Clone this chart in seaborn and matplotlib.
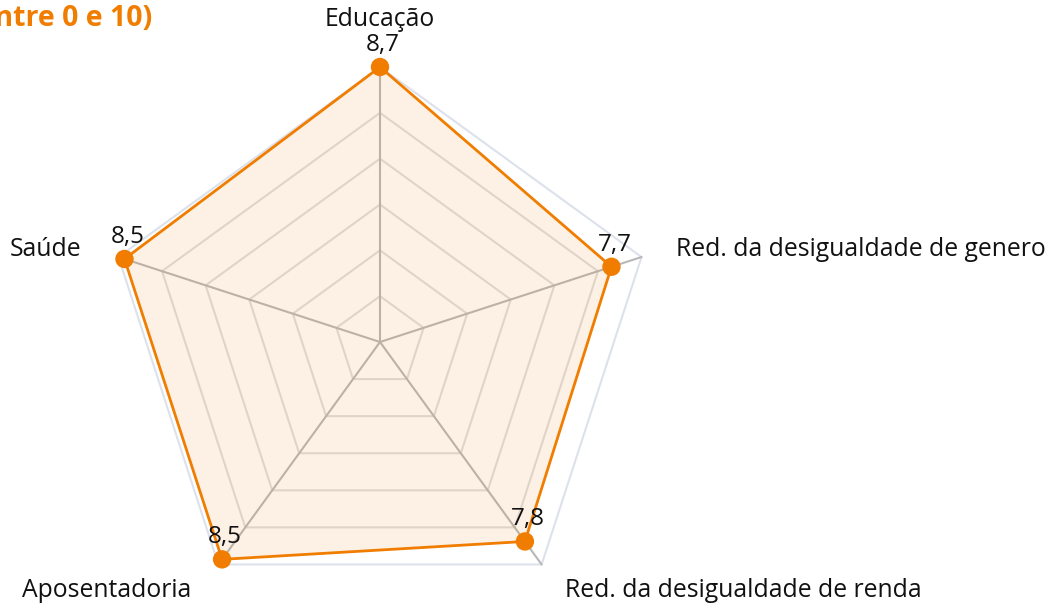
import numpy as np
import pandas as pd
import matplotlib
matplotlib.use("Agg")
import matplotlib.pyplot as plt
import seaborn as sns

# ---- data ----
categories = ["Educação", "Red. da desigualdade de genero", "Red. da desigualdade de renda",
              "Aposentadoria", "Saúde"]
values = [8.7, 7.7, 7.8, 8.5, 8.5]
value_labels = ["8,7", "7,7", "7,8", "8,5", "8,5"]
title_text = "Nota média (entre 0 e 10)"
r_max = 8.7
n_rings = 6

# ---- style ----
sns.set_theme(style="white")
plt.rcParams["font.family"] = ["Open Sans", "DejaVu Sans"]
ORANGE = "#f07d00"
W, H = 1045, 615
cx, cy = 380, 342          # centre in pixels (from top-left)
R_px = 275                 # radius of r_max in pixels
scale = R_px / r_max

fig = plt.figure(figsize=(W / 100, H / 100), dpi=100)
ax = fig.add_axes([0, 0, 1, 1])

n = len(categories)
angles = np.deg2rad(90 - np.arange(n) * 360 / n)

def to_xy(r, a):
    return np.asarray(r) * np.cos(a), np.asarray(r) * np.sin(a)

# grid rings
for k in range(1, n_rings + 1):
    rr = r_max * k / n_rings
    gx, gy = to_xy(np.full(n + 1, rr), np.append(angles, angles[0]))
    col = "#dce1ec" if k == n_rings else "#dedede"
    ax.plot(gx, gy, color=col, lw=1.5, zorder=1)
# spokes
for a in angles:
    sx, sy = to_xy([0, r_max], np.array([a, a]))
    ax.plot(sx, sy, color="#b8b8b8", lw=1.5, zorder=1)

# series
px, py = to_xy(values, angles)
df = pd.DataFrame({"x": np.append(px, px[0]), "y": np.append(py, py[0])})
ax.fill(df["x"], df["y"], color=ORANGE, alpha=0.1, lw=0, zorder=2)
sns.lineplot(data=df, x="x", y="y", sort=False, estimator=None, color=ORANGE,
             lw=2, ax=ax, zorder=3)
sns.scatterplot(x=px, y=py, color=ORANGE, s=175, edgecolor="none", ax=ax, zorder=4)
ax.set_xlim(-cx / scale, (W - cx) / scale)
ax.set_ylim(-(H - cy) / scale, cy / scale)
ax.set_aspect("equal")
ax.axis("off")

# value labels
for x, y, lab in zip(px, py, value_labels):
    ax.annotate(lab, (x, y), xytext=(3, 22), textcoords="offset pixels",
                ha="center", va="center", fontsize=17.5, color="#111111", zorder=5)

# axis names
ox, oy = to_xy(np.full(n, r_max), angles)
name_off = [(0, 48), (34, 8), (23, -26), (-27, -26), (-37, 8)]
name_ha = ["center", "left", "left", "right", "right"]
for x, y, lab, off, ha in zip(ox, oy, categories, name_off, name_ha):
    ax.annotate(lab, (x, y), xytext=off, textcoords="offset pixels",
                ha=ha, va="center", fontsize=17.8, color="#111111",
                annotation_clip=False)

# title (cut at left edge as in the reference)
fig.text(152 / W, 1 - 19 / H, title_text, ha="right", va="center",
         fontsize=20.5, fontweight="bold", color=ORANGE)

fig.savefig("out.png", dpi=100)
